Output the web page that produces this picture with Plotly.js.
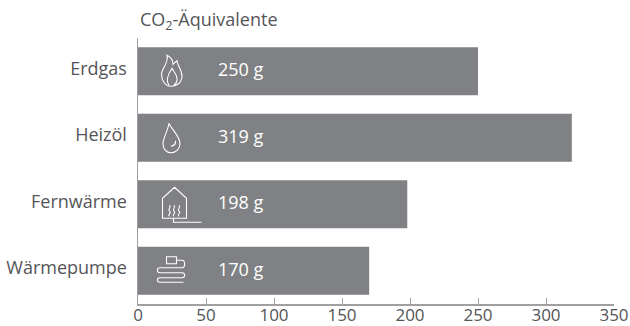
<!DOCTYPE html>
<html><head><meta charset="utf-8">
<script src="https://cdn.plot.ly/plotly-3.0.1.min.js"></script>
<style>html,body{margin:0;padding:0;background:#fff}</style></head>
<body><div id="c" style="width:630px;height:326px"></div>
<script>
const categories = ["Erdgas","Heizöl","Fernwärme","Wärmepumpe"];
const values = [250,319,198,170];
const unit = " g";
const xTicks = [0,50,100,150,200,250,300,350];
const axisTitle = "CO<sub>2</sub>-Äquivalente";

const labelFont = "'Open Sans', sans-serif";
const iconPaths = {
 "Erdgas": "M -1 -15 C -7 -15 -10.5 -9 -10.5 -3 C -10.5 3 -3 8 -5 16 C -1 14 1 11 1 7 C 2 8 3 9 5 10.5 C 5 6 10 2 10 -5 C 10 -11 5 -15 -1 -15 Z M -3 -14 C -7 -9 -4 -3 0 3 C 1 1 2 0 3 -2 C 6 -6 6 -11 2 -14",
 "Heizöl": "M -3 14.5 C -1 9 8 2 8 -6 C 8 -11 4 -15 -1 -15 C -6 -15 -9 -11 -9 -6 C -9 0 -4 7 -3 14.5 Z M 3.5 -3 C 4 -6 2 -8 -1 -8.5",
 "Fernwärme": "M -9.5 -14 L -9.5 6 L 2.5 17 L 14.5 6 L 14.5 -14 Z M -2.5 -1 C 0 -3 -5 -5 -2.5 -7 C 0 -9 -5 -10 -2.5 -12 M 2 -1 C 4.5 -3 -0.5 -5 2 -7 C 4.5 -9 -0.5 -10 2 -12 M 7 -1 C 9.5 -3 4.5 -5 7 -7 C 9.5 -9 4.5 -10 7 -12 M 1.5 -14 L 1.5 -18 L 29.5 -18",
 "Wärmepumpe": "M -5.5 14 L 4.5 14 L 4.5 7 L -5.5 7 Z M 4.5 10.5 L 10 10.5 C 13.5 10.5 13.5 3 10 3 L -12 3 C -15.5 3 -15.5 -2 -12 -2 L 10 -2 C 13.5 -2 13.5 -7 10 -7 L -12 -7 C -15.5 -7 -15.5 -11.5 -12 -11.5 L 11.5 -11.5"
};
const iconX = [25,25,25,25];
const shapes = categories.map((c,i)=>({
  type:"path", xref:"x", yref:"y", xsizemode:"pixel", ysizemode:"pixel",
  xanchor:iconX[i], yanchor:c, path:iconPaths[c],
  line:{color:"#ffffff",width:1.1}, fillcolor:"rgba(0,0,0,0)"
}));
const annotations = categories.map((c,i)=>({
  x:57, y:c, xref:"x", yref:"y", xanchor:"left", yshift:2, text:values[i]+unit, showarrow:false,
  font:{family:labelFont,size:18,color:"#ffffff"}
}));
annotations.push({xref:"paper",yref:"paper",x:0,y:1,xshift:0,yshift:2,xanchor:"left",yanchor:"bottom",
  text:axisTitle,showarrow:false,font:{family:labelFont,size:18,color:"#555558"}});

Plotly.newPlot("c",[{type:"bar",orientation:"h",y:categories,x:values,width:0.72,
  marker:{color:"#808184",line:{width:0}},hoverinfo:"none"}],{
  width:630,height:326,margin:{l:137.5,r:16,t:38,b:22},
  paper_bgcolor:"#fff",plot_bgcolor:"#fff",showlegend:false,bargap:0.28,
  xaxis:{range:[0,350],tickvals:xTicks,ticks:"inside",ticklen:6,tickwidth:1,tickcolor:"#a0a0a0",
    showline:true,linecolor:"#a0a0a0",linewidth:1.5,showgrid:false,zeroline:false,ticklabelstandoff:-5,
    tickfont:{family:labelFont,size:17,color:"#555558"},fixedrange:true},
  yaxis:{type:"category",autorange:false,range:[3.5,-0.5],categoryorder:"array",categoryarray:categories,
    ticks:"",showline:true,linecolor:"#a0a0a0",linewidth:1.5,showgrid:false,zeroline:false,ticklabelshift:3,
    tickfont:{family:labelFont,size:18,color:"#555558"},ticklabelstandoff:6,fixedrange:true},
  shapes,annotations
},{displayModeBar:false,staticPlot:true});
</script></body></html>
